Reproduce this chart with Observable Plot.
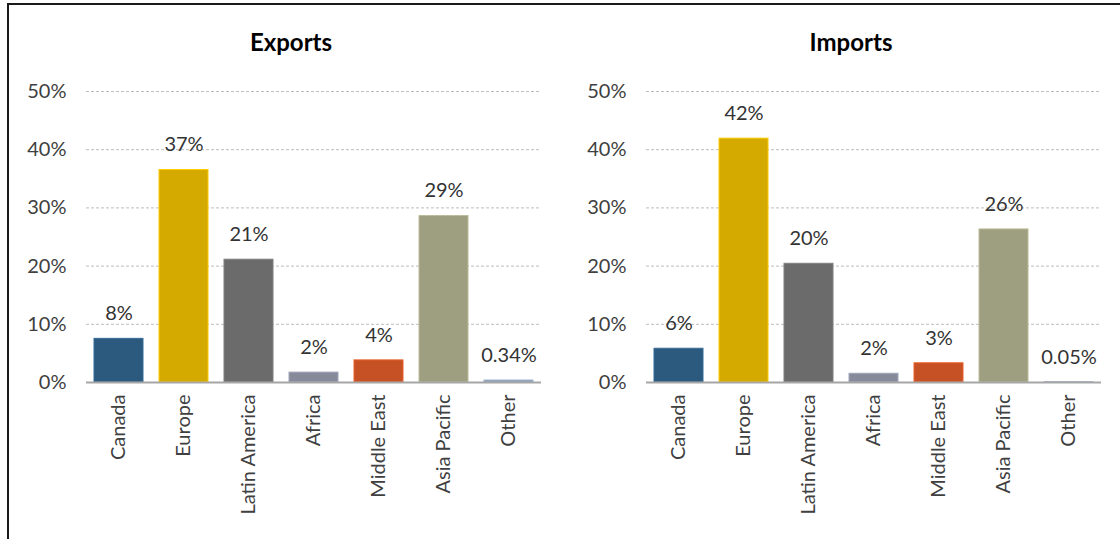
<!DOCTYPE html>
<html>
<head>
<meta charset="utf-8">
<script src="https://cdn.jsdelivr.net/npm/d3@7"></script>
<script src="https://cdn.jsdelivr.net/npm/@observablehq/plot@0.6"></script>
<style>
  html, body { margin: 0; padding: 0; background: #fff; }
  #wrap { position: relative; width: 1120px; height: 539px; overflow: hidden; font-family: Lato, "Noto Sans", sans-serif; }
  #frame { position: absolute; left: 7px; top: 3px; width: 1200px; height: 600px; border-left: 2px solid #1a1a1a; border-top: 2px solid #1a1a1a; box-sizing: border-box; }
  .panel { position: absolute; top: 0; }
</style>
</head>
<body>
<div id="wrap">
  <div id="frame"></div>
  <div class="panel" id="p1" style="left:0px"></div>
  <div class="panel" id="p2" style="left:560px"></div>
</div>
<script>
const regions = ["Canada", "Europe", "Latin America", "Africa", "Middle East", "Asia Pacific", "Other"];
const exportsValues = [7.5, 36.5, 21.1, 1.7, 3.8, 28.6, 0.34];
const importsValues = [5.8, 41.9, 20.4, 1.5, 3.3, 26.3, 0.05];
const colors = ["#2c5a7f", "#d5aa00", "#6b6b6b", "#878a9a", "#c55124", "#9e9e80", "#8595ad"];
const yTicks = [0, 10, 20, 30, 40, 50];

const fmt = v => v < 1 ? v.toFixed(2) + "%" : Math.round(v) + "%";

function panel(title, values) {
  const data = regions.map((r, i) => ({region: r, value: values[i], color: colors[i], stroke: d3.color(colors[i]).brighter(0.5).formatHex()}));
  return Plot.plot({
    width: 560,
    height: 539,
    marginLeft: 86,
    marginRight: 19,
    marginTop: 91,
    marginBottom: 157,
    style: {fontFamily: "Lato, 'Noto Sans', sans-serif", fontSize: "20px", color: "#404040", background: "transparent"},
    x: {domain: regions, paddingInner: 0.25, paddingOuter: 0.125, label: null, tickRotate: -90, tickSize: 0, tickPadding: 12},
    y: {domain: [0, 50], ticks: yTicks, tickFormat: d => d + "%", label: null, tickSize: 0, tickPadding: 20},
    marks: [
      Plot.ruleY(yTicks.filter(d => d > 0), {stroke: "#bdbdbd", strokeDasharray: "3,2", strokeWidth: 1}),
      Plot.barY(data, {x: "region", y: "value", fill: "color", stroke: "stroke", strokeWidth: 1}),
      Plot.ruleY([0], {stroke: "#a6a6a6", strokeWidth: 2}),
      Plot.text(data, {x: "region", y: "value", text: d => fmt(d.value), dy: -25, fill: "#333", fontSize: 20}),
      Plot.text([title], {frameAnchor: "top", lineAnchor: "middle", dy: -48, dx: -23, fontWeight: "bold", fontSize: 24, fill: "#000"})
    ]
  });
}

document.getElementById("p1").appendChild(panel("Exports", exportsValues));
document.getElementById("p2").appendChild(panel("Imports", importsValues));
</script>
</body>
</html>
